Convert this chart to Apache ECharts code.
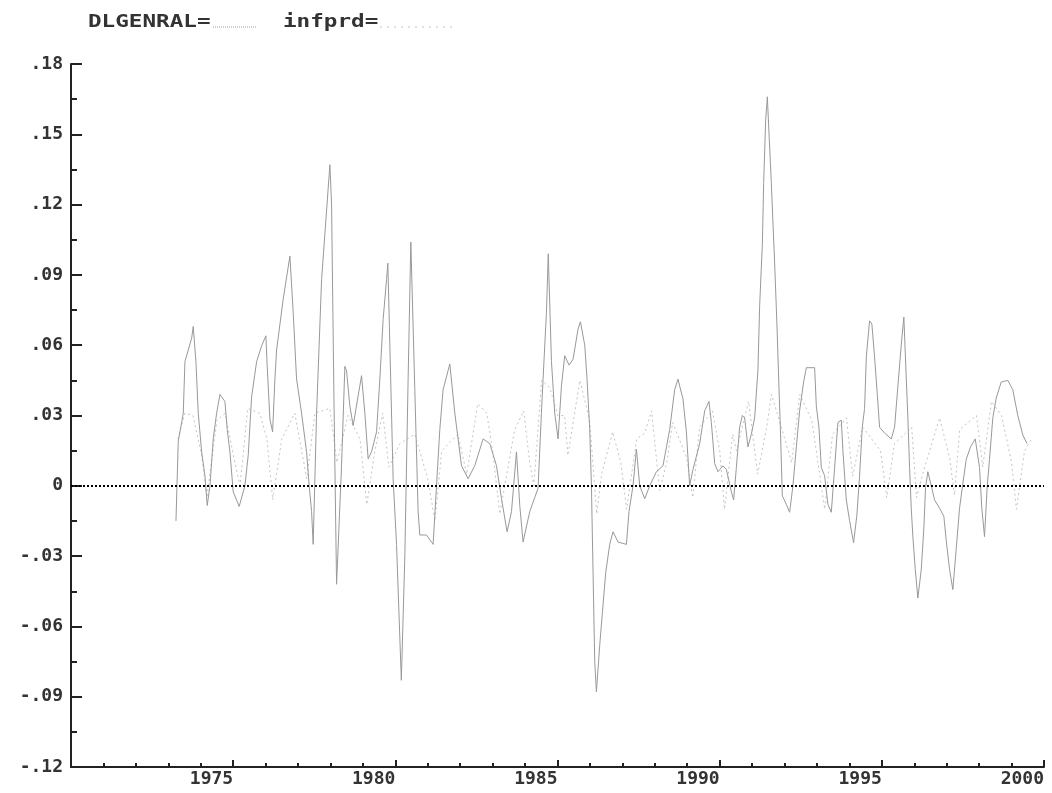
<!DOCTYPE html>
<html>
<head>
<meta charset="utf-8">
<script src="https://cdn.jsdelivr.net/npm/echarts@6/dist/echarts.min.js"></script>
<style>
html,body{margin:0;padding:0;background:#fff;}
#chart{width:1052px;height:793px;}
</style>
</head>
<body>
<div id="chart"></div>
<script>
// ---- DATA (decimal years) ----
const dlYears = [1973.236,1973.307,1973.461,1973.513,1973.720,1973.769,1973.852,1973.923,1974.028,1974.129,1974.200,1974.284,1974.385,1974.490,1974.592,1974.746,1974.817,1974.900,1975.002,1975.186,1975.362,1975.464,1975.569,1975.723,1975.877,1976.009,1976.049,1976.133,1976.216,1976.287,1976.339,1976.542,1976.749,1976.851,1976.955,1977.109,1977.263,1977.344,1977.418,1977.467,1977.572,1977.726,1977.982,1978.034,1978.105,1978.188,1978.342,1978.444,1978.496,1978.598,1978.700,1978.854,1978.958,1979.060,1979.162,1979.267,1979.421,1979.522,1979.624,1979.729,1979.769,1979.831,1979.932,1980.037,1980.185,1980.293,1980.394,1980.478,1980.601,1980.703,1980.755,1980.961,1981.165,1981.270,1981.371,1981.473,1981.680,1981.834,1982.040,1982.243,1982.450,1982.706,1982.912,1983.118,1983.273,1983.445,1983.581,1983.735,1983.837,1983.938,1984.145,1984.401,1984.505,1984.555,1984.659,1984.715,1984.814,1984.915,1985.017,1985.122,1985.223,1985.356,1985.479,1985.633,1985.707,1985.840,1985.911,1985.994,1986.046,1986.096,1986.148,1986.200,1986.302,1986.385,1986.487,1986.610,1986.712,1986.866,1987.125,1987.205,1987.328,1987.433,1987.535,1987.689,1987.843,1988.049,1988.253,1988.459,1988.613,1988.715,1988.869,1988.974,1989.075,1989.177,1989.384,1989.538,1989.670,1989.744,1989.846,1989.948,1990.102,1990.206,1990.361,1990.431,1990.515,1990.616,1990.700,1990.770,1990.872,1990.977,1991.079,1991.180,1991.233,1991.316,1991.356,1991.418,1991.470,1991.593,1991.695,1991.766,1991.827,1991.871,1991.932,1992.055,1992.157,1992.259,1992.364,1992.465,1992.589,1992.672,1992.928,1992.980,1993.060,1993.134,1993.236,1993.337,1993.442,1993.544,1993.646,1993.750,1993.800,1993.904,1994.006,1994.129,1994.231,1994.314,1994.397,1994.468,1994.521,1994.622,1994.693,1994.776,1994.860,1994.931,1995.085,1995.291,1995.393,1995.495,1995.598,1995.679,1995.753,1995.803,1995.855,1995.907,1995.957,1996.031,1996.111,1996.216,1996.296,1996.348,1996.419,1996.524,1996.626,1996.780,1996.912,1996.986,1997.088,1997.189,1997.294,1997.396,1997.498,1997.602,1997.735,1997.880,1998.012,1998.083,1998.166,1998.250,1998.320,1998.422,1998.526,1998.681,1998.884,1999.038,1999.192,1999.346,1999.476];
const dlValues = [-0.015,0.019,0.031,0.053,0.063,0.068,0.053,0.031,0.0145,0.0044,-0.0084,0,0.02,0.031,0.039,0.036,0.024,0.0145,-0.0026,-0.0088,0,0.013,0.038,0.053,0.0597,0.064,0.051,0.0285,0.023,0.0455,0.058,0.0796,0.098,0.074,0.0455,0.031,0.0145,0,-0.011,-0.025,0.031,0.088,0.137,0.12,0.04,-0.042,0.0086,0.051,0.049,0.034,0.0257,0.0384,0.047,0.031,0.0115,0.0145,0.023,0.0455,0.071,0.088,0.095,0.06,0.003,-0.025,-0.083,-0.03,0.0455,0.104,0.041,-0.011,-0.021,-0.021,-0.025,0,0.024,0.041,0.052,0.031,0.0086,0.003,0.0086,0.02,0.018,0.0086,-0.0055,-0.0196,-0.011,0.0145,-0.0084,-0.024,-0.011,-0.001,0.0314,0.0455,0.074,0.099,0.053,0.031,0.02,0.0427,0.0555,0.0515,0.054,0.0668,0.07,0.06,0.0455,0.024,0,-0.037,-0.075,-0.088,-0.068,-0.054,-0.037,-0.025,-0.0196,-0.024,-0.025,-0.011,0,0.0157,0,-0.0055,0,0.006,0.0086,0.024,0.041,0.0455,0.037,0.023,0,0.007,0.018,0.032,0.036,0.027,0.0095,0.006,0.0085,0.007,-0.0026,-0.006,0.0078,0.025,0.03,0.029,0.0166,0.022,0.029,0.0495,0.077,0.103,0.129,0.156,0.166,0.129,0.095,0.0687,0.0425,0.025,-0.0043,-0.0079,-0.0113,0,0.0166,0.032,0.0443,0.0504,0.0504,0.034,0.025,0.0078,0.0043,-0.0079,-0.0113,0.0078,0.027,0.028,0.015,-0.006,-0.0149,-0.0243,-0.0125,0.0043,0.025,0.033,0.055,0.0704,0.069,0.055,0.039,0.025,0.0225,0.02,0.025,0.0425,0.06,0.072,0.046,0.029,0.0078,-0.0096,-0.0217,-0.0357,-0.0479,-0.0357,-0.018,-0.0007,0.006,0,-0.006,-0.0096,-0.013,-0.0234,-0.0357,-0.0443,-0.0268,-0.0096,0.001,0.0113,0.0166,0.02,0.0078,-0.0096,-0.0217,0,0.0113,0.029,0.0374,0.0443,0.045,0.041,0.03,0.0217,0.018];

const ipYears = [1973.30,1973.51,1973.76,1974.03,1974.19,1974.50,1974.75,1975.05,1975.21,1975.45,1975.82,1976.04,1976.22,1976.50,1976.90,1977.15,1977.27,1977.52,1977.98,1978.20,1978.54,1978.91,1979.12,1979.37,1979.61,1979.80,1980.14,1980.60,1981.00,1981.22,1981.43,1981.93,1982.20,1982.54,1982.82,1983.00,1983.22,1983.68,1983.96,1984.14,1984.27,1984.51,1984.76,1985.01,1985.22,1985.32,1985.69,1985.99,1986.21,1986.36,1986.70,1986.95,1987.13,1987.44,1987.69,1987.90,1988.15,1988.37,1988.55,1988.98,1989.17,1989.38,1989.78,1990.00,1990.15,1990.40,1990.52,1990.89,1991.17,1991.45,1991.60,1992.22,1992.47,1992.84,1993.24,1993.48,1993.91,1994.10,1994.41,1994.96,1995.15,1995.39,1995.92,1996.07,1996.26,1996.78,1997.09,1997.24,1997.40,1997.92,1998.11,1998.38,1998.69,1999.00,1999.15,1999.40,1999.62];
const ipValues = [0.02,0.031,0.03,0.013,-0.005,0.028,0.031,0.01,0.0,0.033,0.031,0.02,-0.006,0.02,0.031,0.012,0.003,0.031,0.033,0.01,0.03,0.02,-0.008,0.015,0.031,0.008,0.018,0.022,0.003,-0.015,0.015,0.022,0.005,0.035,0.031,0.015,-0.012,0.024,0.032,0.01,0.0,0.045,0.042,0.03,0.03,0.013,0.045,0.028,-0.012,0.005,0.023,0.01,-0.01,0.02,0.0225,0.032,-0.002,0.01,0.027,0.012,-0.005,0.025,0.032,0.015,-0.01,0.022,0.015,0.036,0.005,0.025,0.039,0.01,0.039,0.028,-0.01,0.022,0.029,0.004,0.025,0.015,-0.005,0.018,0.025,-0.005,0.005,0.029,0.012,-0.004,0.024,0.03,0.008,0.036,0.03,0.01,-0.01,0.015,0.02];

const xMin = 1970, xMax = 2000, xStep = 5;
const yMin = -0.12, yMax = 0.18, yStep = 0.03;
const seriesNames = ['DLGENRAL', 'infprd'];

// ---- CHART ----
const FONT = 'DejaVu Sans Mono';
const chart = echarts.init(document.getElementById('chart'), null, {renderer: 'canvas'});

function yLabel(v) {
  if (Math.abs(v) < 1e-9) return '0';
  let s = (Math.round(v * 100) / 100).toFixed(2);
  return s.replace(/^(-?)0\./, '$1.');
}

const option = {
  animation: false,
  backgroundColor: '#ffffff',
  grid: {left: 71, right: 8, top: 64, bottom: 26, containLabel: false, outerBoundsMode: 'none'},
  xAxis: {
    type: 'value',
    min: xMin, max: xMax, interval: xStep,
    axisLine: {show: true, onZero: false, lineStyle: {color: '#222', width: 2}},
    axisTick: {show: true, inside: true, length: 7, lineStyle: {color: '#222', width: 2}},
    minorTick: {show: true, splitNumber: 5, length: 4, lineStyle: {color: '#222', width: 2}},
    splitLine: {show: false},
    axisLabel: {
      showMinLabel: false, align: 'right', margin: 3, padding: [0, 0, 0, 0],
      fontFamily: FONT, fontWeight: 'bold', fontSize: 18, color: '#333',
      formatter: v => String(Math.round(v))
    }
  },
  yAxis: {
    type: 'value',
    min: yMin, max: yMax, interval: yStep,
    axisLine: {show: true, onZero: false, lineStyle: {color: '#222', width: 2}},
    axisTick: {show: true, inside: true, length: 11, lineStyle: {color: '#222', width: 2}},
    minorTick: {show: true, splitNumber: 2, length: 6, lineStyle: {color: '#222', width: 2}},
    splitLine: {show: false},
    axisLabel: {
      margin: 8,
      fontFamily: FONT, fontWeight: 'bold', fontSize: 18, color: '#333',
      formatter: yLabel
    }
  },
  series: [
    {
      name: seriesNames[0], type: 'line', showSymbol: false, symbol: 'none',
      data: dlYears.map((x, i) => [x, dlValues[i]]),
      lineStyle: {color: '#999999', width: 1},
      z: 3,
      markLine: {
        silent: true, symbol: 'none', label: {show: false},
        lineStyle: {color: '#000', width: 2, type: [2, 2]},
        data: [{yAxis: 0}]
      }
    },
    {
      name: seriesNames[1], type: 'line', showSymbol: false, symbol: 'none',
      data: ipYears.map((x, i) => [x, ipValues[i]]),
      lineStyle: {color: '#c4c4c4', width: 1, type: [2, 3]},
      z: 2
    }
  ],
  graphic: [
    {type: 'text', x: 88, y: 23, scaleX: 1.33, style: {text: seriesNames[0] + '=', font: 'bold 17px "DejaVu Sans Mono"', fill: '#333', verticalAlign: 'middle'}},
    {type: 'line', shape: {x1: 213, y1: 27, x2: 257, y2: 27}, style: {stroke: '#a0a0a0', lineWidth: 1, lineDash: [1, 1]}},
    {type: 'text', x: 283, y: 23, scaleX: 1.33, style: {text: seriesNames[1] + '=', font: 'bold 17px "DejaVu Sans Mono"', fill: '#333', verticalAlign: 'middle'}},
    {type: 'line', shape: {x1: 380, y1: 27, x2: 453, y2: 27}, style: {stroke: '#c0c0c0', lineWidth: 1, lineDash: [2, 5]}}
  ]
};
chart.setOption(option);
</script>
</body>
</html>
